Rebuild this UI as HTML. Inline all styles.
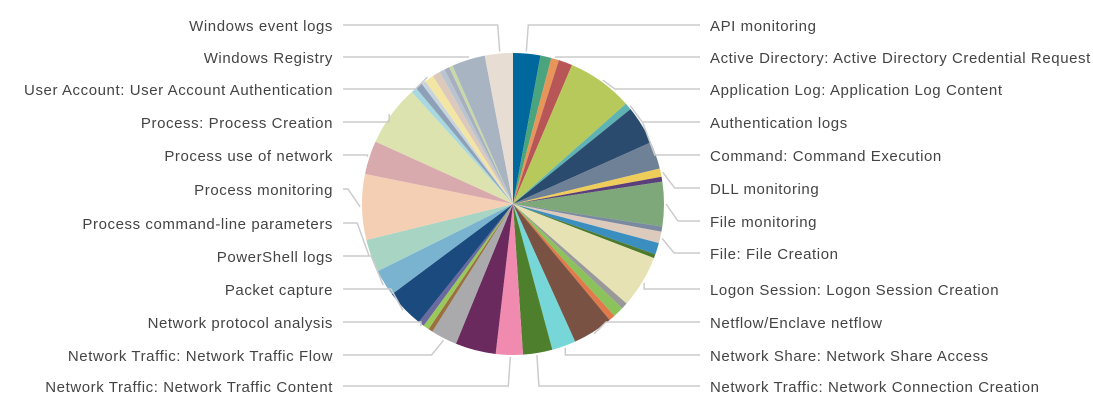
<!DOCTYPE html>
<html><head><meta charset="utf-8"><style>
body{margin:0;background:#fff;width:1093px;height:401px;overflow:hidden;font-family:"Liberation Sans",sans-serif;}
svg{position:absolute;left:0;top:0}
.l{position:absolute;font-size:15px;color:#444;white-space:nowrap;line-height:18px;letter-spacing:0.58px;margin-top:2px}
.r{left:710px}
.lt{right:760px;text-align:right}
</style></head><body>
<svg id="s" width="1093" height="401"></svg>
<div class="l r" style="top:16px">API monitoring</div>
<div class="l r" style="top:48px">Active Directory: Active Directory Credential Request</div>
<div class="l r" style="top:80px">Application Log: Application Log Content</div>
<div class="l r" style="top:113px">Authentication logs</div>
<div class="l r" style="top:146px">Command: Command Execution</div>
<div class="l r" style="top:179px">DLL monitoring</div>
<div class="l r" style="top:212px">File monitoring</div>
<div class="l r" style="top:244px">File: File Creation</div>
<div class="l r" style="top:280px">Logon Session: Logon Session Creation</div>
<div class="l r" style="top:313px">Netflow/Enclave netflow</div>
<div class="l r" style="top:346px">Network Share: Network Share Access</div>
<div class="l r" style="top:377px">Network Traffic: Network Connection Creation</div>
<div class="l lt" style="top:16px">Windows event logs</div>
<div class="l lt" style="top:48px">Windows Registry</div>
<div class="l lt" style="top:80px">User Account: User Account Authentication</div>
<div class="l lt" style="top:113px">Process: Process Creation</div>
<div class="l lt" style="top:146px">Process use of network</div>
<div class="l lt" style="top:180px">Process monitoring</div>
<div class="l lt" style="top:214px">Process command-line parameters</div>
<div class="l lt" style="top:247px">PowerShell logs</div>
<div class="l lt" style="top:280px">Packet capture</div>
<div class="l lt" style="top:313px">Network protocol analysis</div>
<div class="l lt" style="top:346px">Network Traffic: Network Traffic Flow</div>
<div class="l lt" style="top:377px">Network Traffic: Network Traffic Content</div>
<script>
var cx=513,cy=204,R=151,s=document.getElementById('s');
var sl=[[10.5,'#00689c'],[14.7,'#4aa57e'],[17.7,'#e8955a'],[23,'#b85657'],[48.4,'#b8c95b'],[51.1,'#5fb3b3'],[65.9,'#2a4b6e'],[76.4,'#6f8196'],[79.6,'#efcd5b'],[81.5,'#5a3f7a'],[98.6,'#7ea87a'],[100.6,'#7a8aa0'],[105,'#dccbbd'],[109.5,'#3a8fc0'],[111,'#4d7a2d'],[131.2,'#e7e2b4'],[133.7,'#999'],[137.8,'#8cc25c'],[140.2,'#e07a4a'],[155.7,'#7a5244'],[164.9,'#76d6d8'],[176.2,'#4e7f2c'],[186.6,'#f08aaf'],[202.2,'#6a2a5e'],[212.3,'#aaaaad'],[214,'#9a7040'],[216.3,'#9ac85a'],[218.6,'#6a6aa0'],[233.3,'#1a4a7e'],[243.6,'#7ab3cf'],[256.2,'#a8d4c4'],[281.5,'#f4cfb4'],[294.4,'#d8aaae'],[317.9,'#dde3ae'],[320.1,'#a8d8e0'],[322.8,'#8ea0b8'],[324.5,'#c8d4dc'],[328,'#f3e5a4'],[331,'#dcc9bb'],[333,'#b8c4d0'],[335,'#a8b0c0'],[336.4,'#c8d8a8'],[349.2,'#a8b4c2'],[360,'#e8ddd3']];
function pt(a,r){a=a*Math.PI/180;return [cx+r*Math.sin(a),cy-r*Math.cos(a)];}
var p=0,h='';
sl.forEach(function(d){var a=pt(p,R),b=pt(d[0],R),lg=d[0]-p>180?1:0;
h+='<path d="M'+cx+','+cy+'L'+a[0].toFixed(2)+','+a[1].toFixed(2)+'A'+R+','+R+' 0 '+lg+' 1 '+b[0].toFixed(2)+','+b[1].toFixed(2)+'Z" fill="'+d[1]+'"/>';p=d[0];});
var L=[[5,25,1],[16,57,1],[36,89,1],[50,122,1],[58,155,1],[78,188,1],[90,221,1],[103,253,1],[121,289,1],[148,322,1],[160,355,1],[171,386,1],
[355,25,-1],[343,57,-1],[326,89,-1],[306,122,-1],[288,155,-1],[269,189,-1],[250,223,-1],[238,256,-1],[226,289,-1],[217,322,-1],[207,355,-1],[181,386,-1]];
L.forEach(function(d){var q=pt(d[0],R+2),ex=q[0]+d[2]*12;if(Math.abs(q[1]-d[1])<8)ex=q[0];
if(d[0]<12||d[0]>350||(d[0]>165&&d[0]<195))ex=q[0]+d[2]*2;
var end=d[2]>0?700:343;
h+='<polyline points="'+q[0].toFixed(1)+','+q[1].toFixed(1)+' '+ex.toFixed(1)+','+d[1]+' '+end+','+d[1]+'" fill="none" stroke="#ccc" stroke-width="1.5"/>';});
s.innerHTML=h;
</script>
</body></html>
